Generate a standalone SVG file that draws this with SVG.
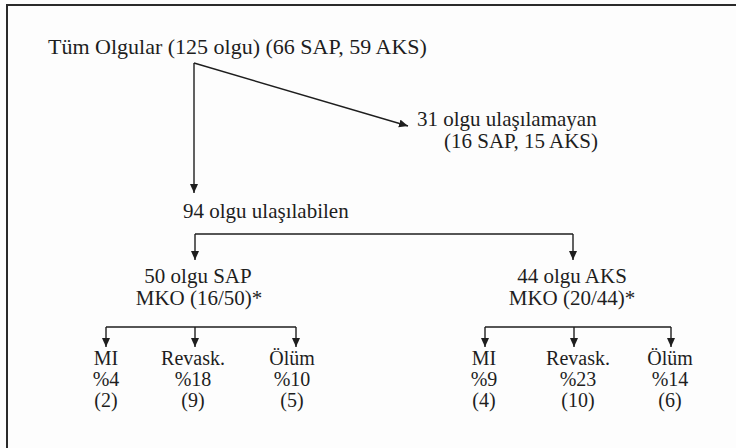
<svg xmlns="http://www.w3.org/2000/svg" width="736" height="448" viewBox="0 0 736 448">
<defs>
<marker id="ah" markerWidth="10" markerHeight="10" refX="9" refY="4" orient="auto" markerUnits="userSpaceOnUse">
<path d="M0,0 L9,4 L0,8 Z" fill="#1e1e1e"/>
</marker>
</defs>
<style>
text{font-family:'Liberation Serif','DejaVu Serif',serif;font-size:21px;fill:#1e1e1e}
.c{text-anchor:middle}
.e{text-anchor:end}
.s{font-size:20px}
.ln{stroke:#1e1e1e;stroke-width:1.4;fill:none}
.ar{marker-end:url(#ah)}
.frame{stroke:#2a2a2a;stroke-width:2;fill:none}
</style>
<rect width="736" height="448" fill="#fdfdfd"/>
<path class="frame" d="M7,448 V5 H736"/>
<g id="connectors">
<line class="ln ar" x1="194" y1="63" x2="194" y2="193"/>
<line class="ln ar" x1="194" y1="63" x2="408" y2="126"/>
<line class="ln" x1="195" y1="234" x2="573" y2="234"/>
<line class="ln ar" x1="195" y1="234" x2="195" y2="260"/>
<line class="ln ar" x1="573" y1="234" x2="573" y2="260"/>
<line class="ln" x1="106" y1="327" x2="296" y2="327"/>
<line class="ln ar" x1="106" y1="327" x2="106" y2="347"/>
<line class="ln ar" x1="195" y1="327" x2="195" y2="347"/>
<line class="ln ar" x1="296" y1="327" x2="296" y2="347"/>
<line class="ln" x1="485" y1="327" x2="671" y2="327"/>
<line class="ln ar" x1="485" y1="327" x2="485" y2="347"/>
<line class="ln ar" x1="574" y1="327" x2="574" y2="347"/>
<line class="ln ar" x1="671" y1="327" x2="671" y2="347"/>
</g>
<g font-family="Liberation Serif, DejaVu Serif, serif">
<g id="all"><text x="48" y="54" style="font-size:22px">Tüm Olgular (125 olgu) (66 SAP, 59 AKS)</text></g>
<g id="lost"><text x="417" y="126">31 olgu ulaşılamayan</text><text class="e" x="598" y="148">(16 SAP, 15 AKS)</text></g>
<g id="reached"><text x="183" y="218">94 olgu ulaşılabilen</text></g>
<g id="sap"><text class="c" x="198" y="283">50 olgu SAP</text><text class="c" x="199" y="305">MKO (16/50)*</text></g>
<g id="aks"><text class="c" x="572" y="283">44 olgu AKS</text><text class="c" x="572" y="305">MKO (20/44)*</text></g>
<g id="sap-mi"><text class="c s" x="106" y="365">MI</text><text class="c s" x="106" y="386">%4</text><text class="c s" x="106" y="407">(2)</text></g>
<g id="sap-rev"><text class="c s" x="193" y="365">Revask.</text><text class="c s" x="193" y="386">%18</text><text class="c s" x="193" y="407">(9)</text></g>
<g id="sap-olum"><text class="c s" x="292" y="365">Ölüm</text><text class="c s" x="292" y="386">%10</text><text class="c s" x="292" y="407">(5)</text></g>
<g id="aks-mi"><text class="c s" x="484" y="365">MI</text><text class="c s" x="484" y="386">%9</text><text class="c s" x="484" y="407">(4)</text></g>
<g id="aks-rev"><text class="c s" x="578" y="365">Revask.</text><text class="c s" x="578" y="386">%23</text><text class="c s" x="578" y="407">(10)</text></g>
<g id="aks-olum"><text class="c s" x="670" y="365">Ölüm</text><text class="c s" x="670" y="386">%14</text><text class="c s" x="670" y="407">(6)</text></g>
</g>
</svg>
